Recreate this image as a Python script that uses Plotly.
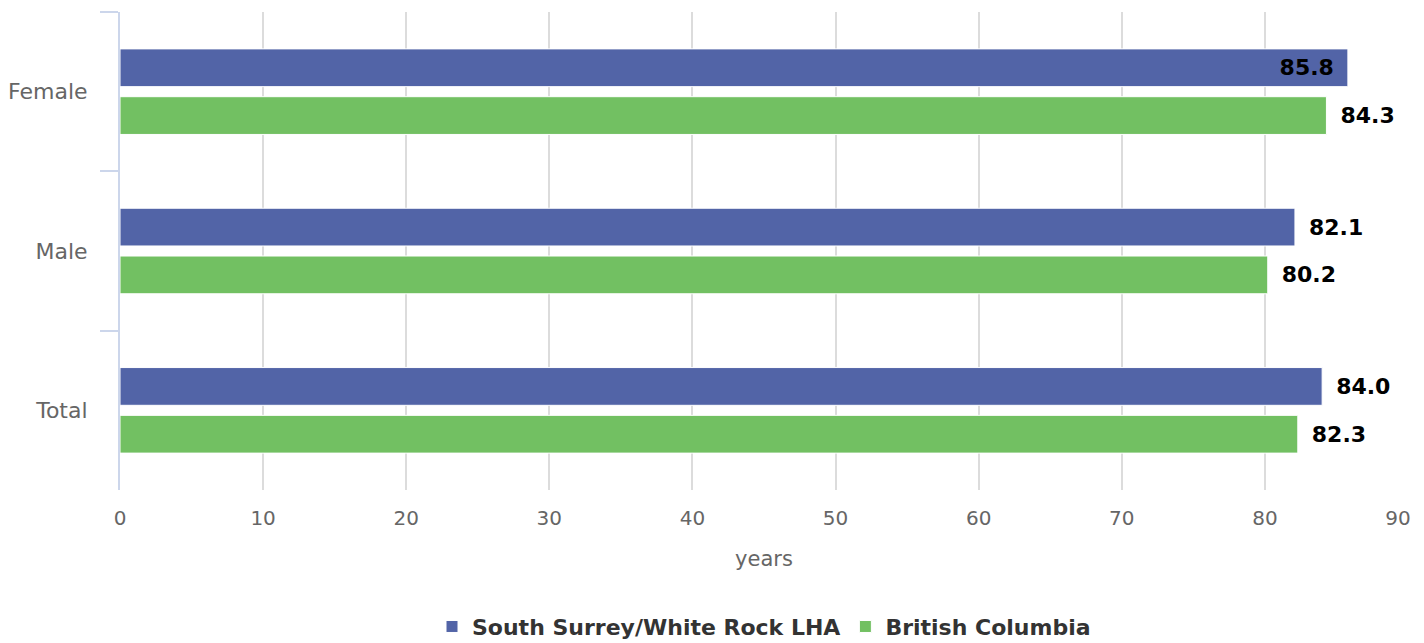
import plotly.graph_objects as go

categories = ["Female", "Male", "Total"]
lha_values = [85.8, 82.1, 84.0]
bc_values = [84.3, 80.2, 82.3]
lha_name = "South Surrey/White Rock LHA"
bc_name = "British Columbia"
x_ticks = [0, 10, 20, 30, 40, 50, 60, 70, 80, 90]

BLUE = "#5264a7"
GREEN = "#72c062"
FONT = "DejaVu Sans"
SP = "\u2002"


def labels(vals):
    return [f"{v:.1f}{SP}" if v > 85 else f"{SP}{v:.1f}" for v in vals]


def positions(vals):
    return ["inside" if v > 85 else "outside" for v in vals]


# last tick label is pulled inside the chart, as in the reference
x_tick_text = [str(t) for t in x_ticks[:-1]] + [f"{x_ticks[-1]}{SP}{SP}"]

fig = go.Figure()
for name, vals, color in [(lha_name, lha_values, BLUE), (bc_name, bc_values, GREEN)]:
    fig.add_trace(go.Bar(
        y=categories, x=vals, orientation="h", name=name,
        marker=dict(color=color, line=dict(color="white", width=1)),
        text=labels(vals), textposition=positions(vals),
        insidetextanchor="end",
        textfont=dict(family=FONT, size=22, color="black", weight="bold"),
        cliponaxis=False,
    ))

# the page body has an 8px margin, so the figure is 8px smaller than the window
fig.update_layout(
    width=1416, height=635,
    margin=dict(l=112, r=16, t=4, b=153, autoexpand=False),
    paper_bgcolor="white", plot_bgcolor="white",
    barmode="group", bargap=0.4, bargroupgap=0.21,
    font=dict(family=FONT, size=21, color="#666666"),
    showlegend=True,
    legend=dict(orientation="h", x=0.5, xanchor="center", y=-0.242, yanchor="top",
                font=dict(family=FONT, size=22, color="#333333", weight="bold"),
                itemwidth=30, traceorder="normal"),
    uniformtext=dict(mode=False),
)
fig.update_xaxes(
    range=[0, 90], tickvals=x_ticks, ticktext=x_tick_text,
    showgrid=True, gridcolor="#dcdcdc", gridwidth=2,
    zeroline=False, showline=False, ticks="", ticklabelstandoff=14,
    automargin=False, ticklabeloverflow="allow",
    tickfont=dict(family=FONT, size=20, color="#666666"),
    title=dict(text="years", font=dict(family=FONT, size=21, color="#666666"), standoff=22),
)
fig.update_yaxes(
    autorange="reversed", showline=True, linecolor="#ccd6eb", linewidth=2,
    ticks="outside", tickson="boundaries", ticklen=18, tickcolor="#ccd6eb", tickwidth=2,
    showgrid=False, tickfont=dict(family=FONT, size=22, color="#666666"),
    ticklabelstandoff=26, automargin=False,
)

fig.write_html("out.html")
